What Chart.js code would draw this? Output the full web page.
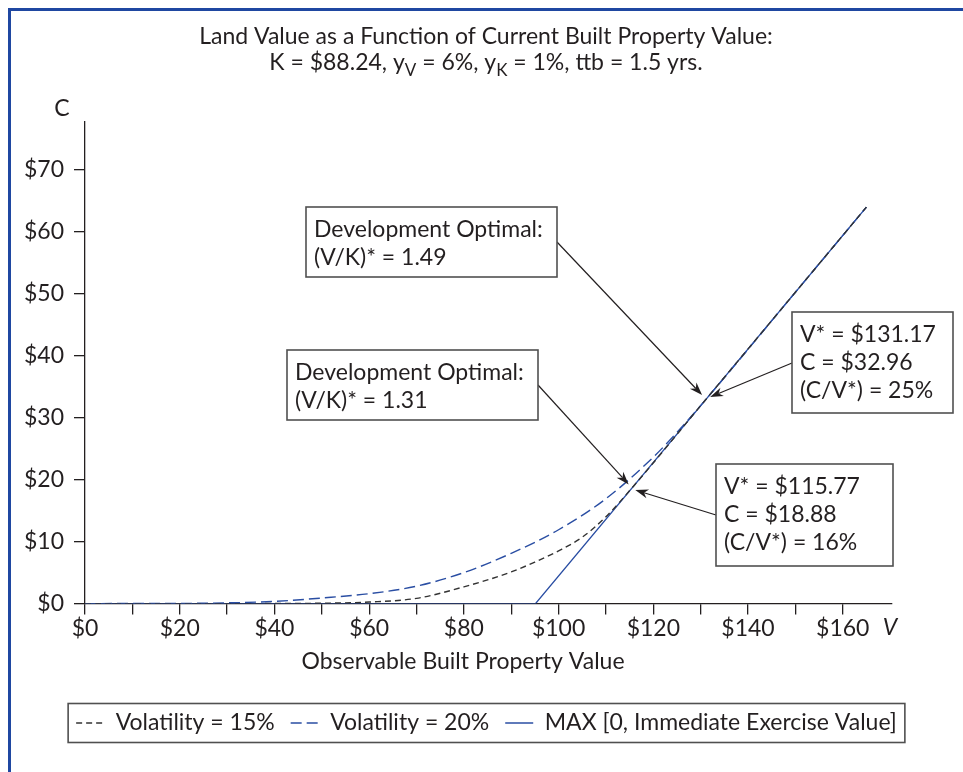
<!DOCTYPE html>
<html lang="en">
<head>
<meta charset="UTF-8">
<title>Land Value as a Function of Current Built Property Value</title>
<script src="https://cdn.jsdelivr.net/npm/chart.js@4"></script>
<style>
    html, body {
        margin: 0;
        padding: 0;
        background: #fff;
    }
    #frame {
        position: absolute;
        left: 8px;
        top: 8px;
        width: 955px;
        height: 764px;
        border-left: 3px solid #1f47a1;
        border-top: 3px solid #1f47a1;
        box-sizing: border-box;
    }
    canvas {
        position: absolute;
        left: 0;
        top: 0;
    }
</style>
</head>
<body>
<div id="frame"></div>
<canvas id="landChart" width="963" height="772"></canvas>

<script>
    // Series: V = built property value, C = land value
    const vol15V = [0, 30, 40, 50, 60, 70, 80, 90, 95, 100, 105, 110, 115.77, 130, 150, 165];
    const vol15C = [0, 0, 0.01, 0.06, 0.25, 0.85, 2.7, 5.1, 6.7, 8.5, 10.7, 14.0, 18.88, 31.89, 50.17, 63.89];

    const vol20V = [0, 20, 30, 40, 50, 60, 70, 80, 90, 100, 110, 120, 125, 131.17, 150, 165];
    const vol20C = [0, 0.03, 0.12, 0.35, 0.9, 1.6, 2.8, 5.0, 8.1, 11.9, 16.9, 23.6, 27.6, 32.96, 50.17, 63.89];

    const exerciseV = [0, 95.12, 165];
    const exerciseC = [0, 0, 63.89];

    const seriesLabels = ['Volatility = 15%', 'Volatility = 20%', 'MAX [0, Immediate Exercise Value]'];

    // arrow tips sit on the curves (V, C); boxes are placed in pixels
    const notes = [
        { lines: ['Development Optimal:', '(V/K)* = 1.49'], tipV: 130.3, tipC: 33.6 },
        { lines: ['Development Optimal:', '(V/K)* = 1.31'], tipV: 114.8, tipC: 19.2 },
        { lines: ['V* = $131.17', 'C = $32.96', '(C/V*) = 25%'], tipV: 132.0, tipC: 33.3 },
        { lines: ['V* = $115.77', 'C = $18.88', '(C/V*) = 16%'], tipV: 116.2, tipC: 18.3 }
    ];
    const noteBoxes = [
        { x: 306, y: 207, w: 251, h: 70, fromX: 557, fromY: 242 },
        { x: 287, y: 350, w: 251, h: 70, fromX: 538, fromY: 385 },
        { x: 792, y: 312, w: 161, h: 101, fromX: 792, fromY: 363 },
        { x: 716, y: 464, w: 177, h: 102, fromX: 716, fromY: 515 }
    ];

    const FONT = 'Lato, "Open Sans", sans-serif';
    const INK = '#231f20';
    const BLUE = '#2a4ea3';

    function toPoints(xs, ys) {
        return xs.map((v, i) => ({ x: v, y: ys[i] }));
    }

    function arrow(ctx, fx, fy, tx, ty) {
        const a = Math.atan2(ty - fy, tx - fx);
        const L = 13, W = 4.5;
        const cos = Math.cos(a), sin = Math.sin(a);
        ctx.beginPath();
        ctx.moveTo(fx, fy);
        ctx.lineTo(tx - cos * L * 0.7, ty - sin * L * 0.7);
        ctx.stroke();
        ctx.beginPath();
        ctx.moveTo(tx, ty);
        ctx.lineTo(tx - cos * L - sin * W, ty - sin * L + cos * W);
        ctx.lineTo(tx - cos * L * 0.7, ty - sin * L * 0.7);
        ctx.lineTo(tx - cos * L + sin * W, ty - sin * L - cos * W);
        ctx.closePath();
        ctx.fill();
    }

    // title, axis letters, axis title and callout boxes
    const overlay = {
        id: 'overlay',
        afterDraw(chart) {
            const { ctx, scales: { x, y } } = chart;
            ctx.save();
            ctx.fillStyle = INK;
            ctx.textBaseline = 'alphabetic';

            // title
            ctx.font = '23px ' + FONT;
            ctx.textAlign = 'center';
            ctx.fillText('Land Value as a Function of Current Built Property Value:', 486, 44);

            const parts = [['K = $88.24, y', 0], ['V', 1], [' = 6%, y', 0], ['K', 1], [' = 1%, ttb = 1.5 yrs.', 0]];
            const fontFor = sub => (sub ? '17px ' : '23px ') + FONT;
            let total = 0;
            parts.forEach(p => { ctx.font = fontFor(p[1]); total += ctx.measureText(p[0]).width; });
            let cx = 486 - total / 2;
            ctx.textAlign = 'left';
            parts.forEach(p => {
                ctx.font = fontFor(p[1]);
                ctx.fillText(p[0], cx, p[1] ? 76 : 70);
                cx += ctx.measureText(p[0]).width;
            });

            // axis letters
            ctx.font = '23px ' + FONT;
            ctx.textAlign = 'center';
            ctx.fillText('C', 62, 116);
            ctx.font = 'italic 23px ' + FONT;
            ctx.fillText('V', 890, 635);

            ctx.font = '23px ' + FONT;
            ctx.fillText('Observable Built Property Value', 463, 669);

            // callouts
            ctx.strokeStyle = INK;
            ctx.lineWidth = 1.2;
            notes.forEach((n, i) => {
                const b = noteBoxes[i];
                arrow(ctx, b.fromX, b.fromY, x.getPixelForValue(n.tipV), y.getPixelForValue(n.tipC));
            });
            notes.forEach((n, i) => {
                const b = noteBoxes[i];
                ctx.fillStyle = '#fff';
                ctx.fillRect(b.x, b.y, b.w, b.h);
                ctx.strokeStyle = '#505050';
                ctx.lineWidth = 1.6;
                ctx.strokeRect(b.x, b.y, b.w, b.h);
                ctx.fillStyle = INK;
                ctx.textAlign = 'left';
                ctx.font = '23px ' + FONT;
                n.lines.forEach((t, k) => ctx.fillText(t, b.x + 8, b.y + 30 + k * 28));
            });

            // frame round the legend
            const boxes = chart.legend.legendHitBoxes;
            if (boxes && boxes.length) {
                const l = Math.min(...boxes.map(h => h.left)) - 8;
                const r = Math.max(...boxes.map(h => h.left + h.width)) + 8;
                const t = boxes[0].top - 8;
                const bt = boxes[0].top + boxes[0].height + 8;
                ctx.strokeStyle = '#505050';
                ctx.lineWidth = 1.6;
                ctx.strokeRect(l, t, r - l, bt - t);
            }
            ctx.restore();
        }
    };

    const ctx = document.getElementById('landChart').getContext('2d');
    const chart = new Chart(ctx, {
        type: 'line',
        data: {
            datasets: [
                {
                    label: seriesLabels[0],
                    data: toPoints(vol15V, vol15C),
                    borderColor: '#333333',
                    borderWidth: 1.4,
                    borderDash: [6, 4],
                    pointRadius: 0,
                    cubicInterpolationMode: 'monotone',
                    order: 0
                },
                {
                    label: seriesLabels[1],
                    data: toPoints(vol20V, vol20C),
                    borderColor: BLUE,
                    borderWidth: 1.4,
                    borderDash: [11, 5],
                    pointRadius: 0,
                    cubicInterpolationMode: 'monotone',
                    order: 1
                },
                {
                    label: seriesLabels[2],
                    data: toPoints(exerciseV, exerciseC),
                    borderColor: BLUE,
                    borderWidth: 1.4,
                    pointRadius: 0,
                    tension: 0,
                    order: 2
                }
            ]
        },
        options: {
            responsive: false,
            animation: false,
            layout: { padding: { top: 122, left: 10, right: 0, bottom: 27.5 } },
            plugins: {
                title: { display: false },
                tooltip: { enabled: false },
                legend: {
                    position: 'bottom',
                    labels: {
                        usePointStyle: true,
                        pointStyle: 'line',
                        pointStyleWidth: 28,
                        padding: 16,
                        color: INK,
                        font: { family: FONT, size: 23 },
                        // point-style items lose the dash, so copy it back from the dataset
                        generateLabels: c => Chart.defaults.plugins.legend.labels.generateLabels(c).map(item => {
                            const ds = c.data.datasets[item.datasetIndex];
                            item.lineDash = ds.borderDash || [];
                            item.strokeStyle = ds.borderColor;
                            item.lineWidth = ds.borderWidth;
                            return item;
                        })
                    }
                }
            },
            scales: {
                x: {
                    type: 'linear',
                    min: 0,
                    max: 170.4,
                    afterFit: s => { s.height = 91.9; },
                    afterBuildTicks: s => { s.ticks = s.ticks.filter(t => t.value <= 160); },
                    border: { color: INK, width: 1.3 },
                    grid: { drawOnChartArea: false, tickLength: 11, color: INK, lineWidth: 1.3 },
                    ticks: {
                        stepSize: 10,
                        autoSkip: false,
                        maxRotation: 0,
                        padding: 0,
                        color: INK,
                        font: { family: FONT, size: 23 },
                        callback: v => (v % 20 === 0 ? '$' + v : '')
                    }
                },
                y: {
                    min: 0,
                    max: 77.6,
                    afterFit: s => { s.width = 75; },
                    border: { color: INK, width: 1.3 },
                    grid: { drawOnChartArea: false, tickLength: 11, color: INK, lineWidth: 1.3 },
                    ticks: {
                        stepSize: 10,
                        includeBounds: false,
                        padding: 10,
                        color: INK,
                        font: { family: FONT, size: 23 },
                        callback: v => '$' + v
                    }
                },
                // empty right gutter so the legend centres on the page like the original
                gutter: {
                    position: 'right',
                    afterFit: s => { s.width = 71; },
                    grid: { display: false },
                    border: { display: false },
                    ticks: { display: false }
                }
            }
        },
        plugins: [overlay]
    });
</script>
</body>
</html>
